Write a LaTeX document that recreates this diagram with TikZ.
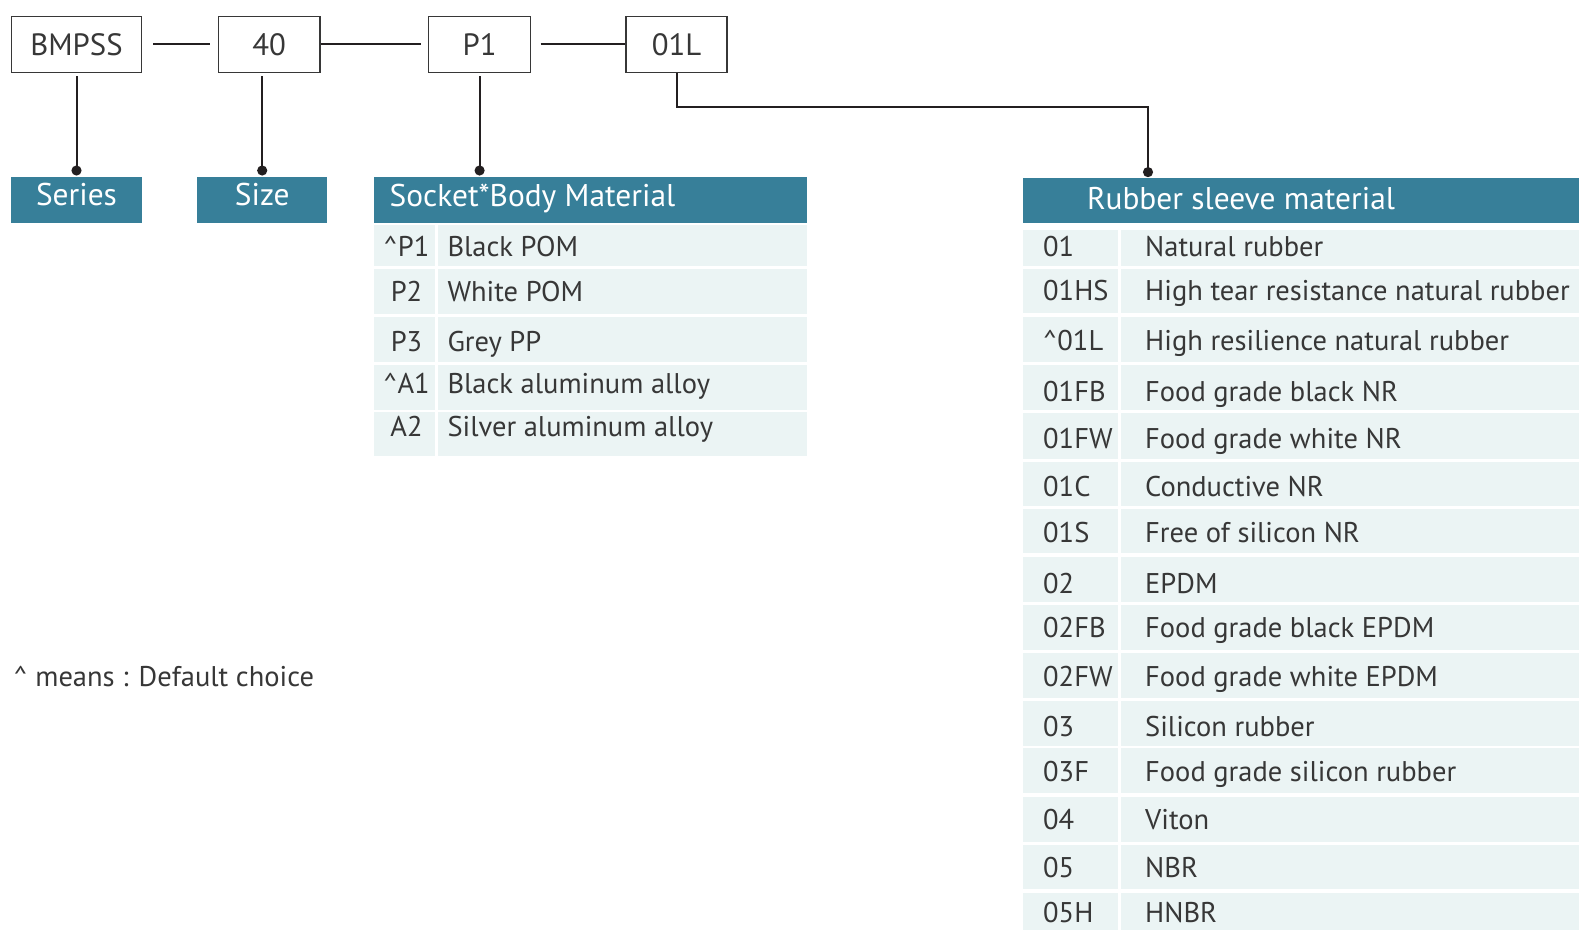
\documentclass[tikz,border=0pt]{standalone}
\usepackage{fontspec}
\setmainfont{PT Sans}
\usetikzlibrary{positioning,calc,arrows.meta}
\definecolor{headteal}{RGB}{55,127,153}
\definecolor{rowtint}{RGB}{235,244,244}
\definecolor{inkgrey}{RGB}{55,55,55}
\definecolor{linkblack}{RGB}{35,31,32}

\begin{document}
\begin{tikzpicture}[x=1pt,y=-1pt,
    font=\fontsize{28.5}{32}\selectfont,
    codebox/.style={draw=inkgrey, line width=1.2pt, minimum height=55.7pt, inner sep=0pt, text=inkgrey, font=\fontsize{30.8}{34}\selectfont},
    head/.style={fill=headteal, inner sep=0pt, minimum height=46pt},
    headtxt/.style={text=white, inner sep=0pt, anchor=base west, font=\fontsize{31.4}{35}\selectfont},
    link/.style={draw=linkblack, line width=2pt},
    drop/.style={link, -{Circle[length=10pt, width=10pt]}},
    txt/.style={text=inkgrey, inner sep=0pt, anchor=base west}]
    \useasboundingbox (0,0) rectangle (1579,930);

    % Code boxes
    \node[codebox, minimum width=130.6pt] (bmpss) at (76.5,44.3) {BMPSS};
    \node[codebox, minimum width=101.5pt] (s40) at (269.2,44.3) {40};
    \node[codebox, minimum width=102pt] (p1) at (479.6,44.3) {P1};
    \node[codebox, minimum width=101pt] (o1l) at (676.5,44.3) {01L};

    % Chain between boxes
    \draw[link, shorten <=11pt, shorten >=8pt] (bmpss) -- (s40);
    \draw[link, shorten >=7pt] (s40) -- (p1);
    \draw[link, shorten <=9.4pt] (p1) -- (o1l);

    % Headers
    \node[head, minimum width=130.6pt] (serieshead) at (76.5,199.7) {};
    \node[head, minimum width=130.5pt] (sizehead) at (262.2,199.7) {};
    \node[head, minimum width=432.7pt] (sockethead) at (590.35,199.7) {};
    \node[head, minimum width=556pt, minimum height=45pt] (rubberhead) at (1301,200.8) {};
    \node[headtxt, anchor=base] (seriestitle) at (76.5,205.5) {Series};
    \node[headtxt, anchor=base] (sizetitle) at (262.2,205.5) {Size};
    \node[headtxt] (sockettitle) at (389.5,206.7) {Socket*Body Material};
    \node[headtxt] (rubbertitle) at (1087,209.3) {Rubber sleeve material};

    % Drops to headers
    \draw[drop] ($(bmpss.south)+(0,3.5)$) -- ($(serieshead.north)+(0,-1)$);
    \draw[drop] ($(sizehead.north |- s40.south)+(0,3.5)$) -- ($(sizehead.north)+(0,-1)$);
    \draw[drop] ($(p1.south)+(0,3.5)$) -- ($(sockethead.north -| p1)+(0,-1)$);
    \coordinate (elbow) at (1148,107.3);
    \draw[drop] (o1l.south) |- (elbow) -- ($(elbow |- rubberhead.north)+(0,-1)$);

    % Socket body table
    \foreach \yt/\yb/\yl/\code/\desc [count=\i] in {
        225/266/256/{\textasciicircum P1}/Black POM,
        268.5/314/301.7/P2/White POM,
        317/362/351.7/P3/Grey PP,
        364.5/409.5/393.3/{\textasciicircum A1}/Black aluminum alloy,
        412/456/436.7/A2/Silver aluminum alloy} {
        \fill[rowtint] (374,\yt) rectangle (435.3,\yb);
        \fill[rowtint] (438,\yt) rectangle (806.7,\yb);
        \node[txt, anchor=base] (sc\i) at (406.5,\yl) {\code};
        \node[txt] (sd\i) at (447.3,\yl) {\desc};
    }

    % Rubber sleeve table
    \foreach \yt/\yb/\yl/\code/\desc [count=\i] in {
        230/266/256.7/01/Natural rubber,
        269/313.3/300.7/01HS/High tear resistance natural rubber,
        316.7/361.7/350/{\textasciicircum 01L}/High resilience natural rubber,
        365/410/401.7/01FB/Food grade black NR,
        412.7/459.3/448.3/01FW/Food grade white NR,
        462/505.7/496/01C/Conductive NR,
        508.7/553.3/542.7/01S/Free of silicon NR,
        556.7/601.7/593.3/02/EPDM,
        605/650/637.3/02FB/Food grade black EPDM,
        652.7/698.3/686/02FW/Food grade white EPDM,
        700.7/745.7/736/03/Silicon rubber,
        748.3/793.3/781.7/03F/Food grade silicon rubber,
        796.7/841.7/829.3/04/Viton,
        845/889.3/877.7/05/NBR,
        892.7/930/922.7/05H/HNBR} {
        \fill[rowtint] (1023,\yt) rectangle (1118,\yb);
        \fill[rowtint] (1120.8,\yt) rectangle (1579,\yb);
        \node[txt] (rc\i) at (1043,\yl) {\code};
        \node[txt] (rd\i) at (1145,\yl) {\desc};
    }

    % Note
    \node[txt] (note) at (13.3,686.7) {\textasciicircum{} means : Default choice};
\end{tikzpicture}
\end{document}
